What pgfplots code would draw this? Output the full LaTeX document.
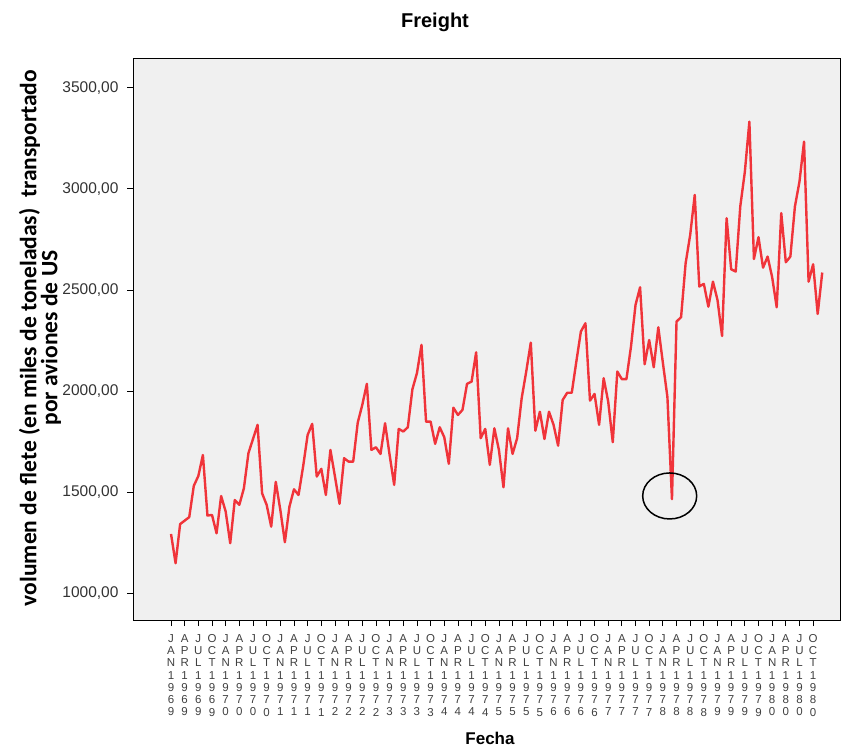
\documentclass[border=0pt]{standalone}
\usepackage{fontspec}
\setmainfont{Liberation Sans}
\newfontfamily\calib{Carlito}
\usepackage{pgfplots}
\pgfplotsset{compat=1.18}
\definecolor{linered}{RGB}{240,52,58}
\definecolor{plotbg}{RGB}{240,240,240}
\newcommand\lab[7]{#1\\#2\\#3\\#4\\#5\\#6\\#7}
\begin{document}
\begin{tikzpicture}
\begin{axis}[
  scale only axis, width=707pt, height=562pt,
  xmin=-8.35, xmax=146.9, ymin=866, ymax=3648,
  axis background/.style={fill=plotbg},
  axis line style={black, line width=0.8pt},
  tick align=outside, tick pos=left,
  major tick length=6pt,
  tick style={black, line width=0.8pt},
  xtick={0,3,...,141},
  xticklabels={\lab JAN1969,\lab APR1969,\lab JUL1969,\lab OCT1969,
    \lab JAN1970,\lab APR1970,\lab JUL1970,\lab OCT1970,
    \lab JAN1971,\lab APR1971,\lab JUL1971,\lab OCT1971,
    \lab JAN1972,\lab APR1972,\lab JUL1972,\lab OCT1972,
    \lab JAN1973,\lab APR1973,\lab JUL1973,\lab OCT1973,
    \lab JAN1974,\lab APR1974,\lab JUL1974,\lab OCT1974,
    \lab JAN1975,\lab APR1975,\lab JUL1975,\lab OCT1975,
    \lab JAN1976,\lab APR1976,\lab JUL1976,\lab OCT1976,
    \lab JAN1977,\lab APR1977,\lab JUL1977,\lab OCT1977,
    \lab JAN1978,\lab APR1978,\lab JUL1978,\lab OCT1978,
    \lab JAN1979,\lab APR1979,\lab JUL1979,\lab OCT1979,
    \lab JAN1980,\lab APR1980,\lab JUL1980,\lab OCT1980},
  xticklabel style={align=center, font=\fontsize{11.5}{12.3}\selectfont, color=black!75, inner sep=0pt, yshift=-8pt},
  ytick={1000,1500,2000,2500,3000,3500},
  yticklabels={{1000,00},{1500,00},{2000,00},{2500,00},{3000,00},{3500,00}},
  yticklabel style={font=\fontsize{15.5}{17}\selectfont, color=black!80, xshift=-5pt},
]
\coordinate (sw) at (rel axis cs:0,0);
\coordinate (ne) at (rel axis cs:1,1);
\addplot[linered, line width=2.4pt, line join=round, mark=none] table {
0 1292
1 1147
2 1341
3 1358
4 1375
5 1530
6 1579
7 1683
8 1383
9 1386
10 1295
11 1480
12 1403
13 1246
14 1460
15 1436
16 1518
17 1692
18 1762
19 1832
20 1493
21 1436
22 1328
23 1550
24 1411
25 1251
26 1427
27 1513
28 1485
29 1625
30 1782
31 1837
32 1576
33 1614
34 1485
35 1708
36 1576
37 1441
38 1667
39 1650
40 1650
41 1843
42 1931
43 2035
44 1708
45 1721
46 1688
47 1840
48 1683
49 1535
50 1812
51 1799
52 1820
53 2008
54 2088
55 2228
56 1848
57 1848
58 1738
59 1820
60 1771
61 1639
62 1917
63 1881
64 1906
65 2035
66 2046
67 2191
68 1766
69 1812
70 1634
71 1815
72 1708
73 1523
74 1815
75 1688
76 1766
77 1964
78 2096
79 2239
80 1803
81 1897
82 1762
83 1897
84 1832
85 1729
86 1955
87 1991
88 1991
89 2145
90 2294
91 2335
92 1952
93 1985
94 1832
95 2063
96 1947
97 1746
98 2096
99 2058
100 2058
101 2219
102 2426
103 2513
104 2132
105 2252
106 2117
107 2315
108 2140
109 1970
110 1464
111 2343
112 2365
113 2632
114 2772
115 2970
116 2517
117 2530
118 2417
119 2541
120 2450
121 2272
122 2855
123 2602
124 2591
125 2913
126 3084
127 3333
128 2653
129 2761
130 2610
131 2665
132 2563
133 2414
134 2880
135 2637
136 2665
137 2913
138 3036
139 3234
140 2541
141 2627
142 2381
143 2586
};
\draw[black, line width=1.5pt] (axis cs:109.5,1480) ellipse [x radius=27pt, y radius=23pt];
\end{axis}
\pgfresetboundingbox
\path[use as bounding box] ([shift={(-133pt,-129pt)}]sw) rectangle ([shift={(10pt,58pt)}]ne);
\begin{scope}[shift={([shift={(-133pt,620pt)}]sw)}, x=1pt, y=-1pt]
\node[font=\bfseries\fontsize{20}{24}\selectfont] at (435,22) {Freight};
\node[font=\bfseries\fontsize{17}{20}\selectfont] at (490,738) {Fecha};
\node[rotate=90, align=center, font=\calib\bfseries\fontsize{23.5}{19}\selectfont] at (40,338) {volumen de flete (en miles de toneladas)\ \ transportado\\por aviones de US};
\end{scope}
\end{tikzpicture}
\end{document}
